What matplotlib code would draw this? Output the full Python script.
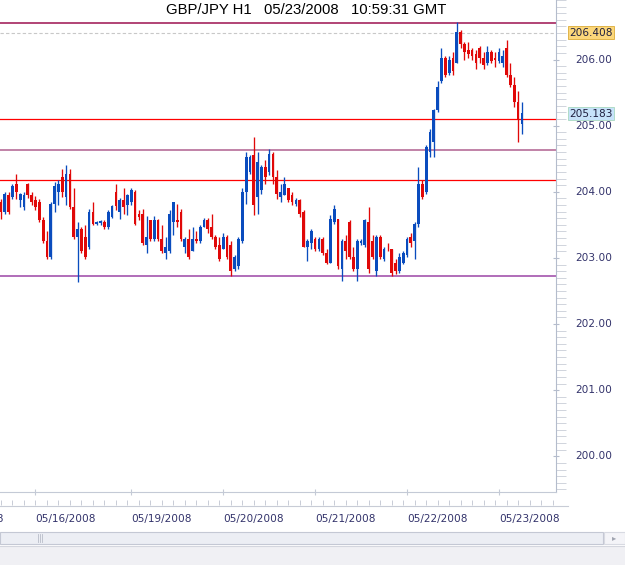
import numpy as np
import matplotlib
matplotlib.use("Agg")
import matplotlib.pyplot as plt
from matplotlib.lines import Line2D
from matplotlib.patches import Rectangle
import matplotlib.transforms as mtransforms

# GBP/JPY hourly bars (open, high, low, close)
opens = [203.85, 203.70, 203.95, 203.92, 204.11, 203.88, 203.77, 204.11, 203.95, 203.88,
         203.85, 203.58, 203.25, 203.02, 203.82, 204.00, 204.23, 203.92, 204.27, 203.77,
         203.32, 203.43, 203.32, 203.17, 203.70, 203.52, 203.53, 203.55, 203.46, 203.62,
         204.00, 203.70, 203.88, 203.80, 203.85, 204.00, 203.67, 203.67, 203.20, 203.58,
         203.28, 203.58, 203.28, 203.08, 203.10, 203.55, 203.58, 203.70, 203.17, 203.29,
         203.10, 203.28, 203.25, 203.47, 203.58, 203.47, 203.32, 203.20, 203.14, 203.32,
         203.20, 202.83, 202.87, 203.25, 204.00, 204.30, 204.56, 203.92, 204.03, 204.38,
         204.30, 204.57, 204.23, 203.92, 203.95, 204.05, 203.95, 203.82, 203.88, 203.70,
         203.17, 203.22, 203.29, 203.13, 203.28, 203.07, 202.92, 203.55, 203.59, 202.83,
         203.25, 203.55, 203.02, 202.83, 203.22, 203.20, 203.55, 203.25, 202.80, 203.32,
         202.98, 203.14, 203.13, 202.92, 202.80, 202.92, 203.05, 203.32, 203.25, 203.52,
         204.11, 204.00, 204.60, 204.75, 205.23, 205.68, 206.03, 205.80, 206.03, 205.95,
         206.41, 206.23, 206.14, 206.14, 206.08, 206.18, 206.03, 205.95, 206.11, 206.03,
         205.98, 205.95, 206.18, 205.77, 205.62, 205.35, 205.02]
highs = [203.89, 204.00, 204.00, 204.12, 204.27, 203.98, 204.00, 204.14, 204.00, 203.94,
         203.89, 203.62, 203.40, 203.85, 204.15, 204.18, 204.35, 204.41, 204.35, 204.05,
         203.55, 203.47, 203.50, 203.74, 203.85, 203.56, 203.58, 203.58, 203.73, 203.80,
         204.11, 203.91, 204.05, 203.97, 204.06, 204.02, 203.73, 203.74, 203.64, 203.58,
         203.64, 203.59, 203.50, 203.32, 203.73, 203.85, 203.82, 203.74, 203.31, 203.43,
         203.47, 203.40, 203.50, 203.61, 203.61, 203.67, 203.35, 203.32, 203.37, 203.35,
         203.25, 203.05, 203.32, 204.05, 204.60, 204.56, 204.83, 204.60, 204.41, 204.48,
         204.65, 204.60, 204.33, 204.12, 204.23, 204.06, 204.00, 203.91, 203.89, 203.73,
         203.29, 203.44, 203.32, 203.32, 203.32, 203.13, 203.65, 203.80, 203.59, 203.28,
         203.35, 203.58, 203.17, 203.28, 203.28, 203.59, 203.77, 203.35, 203.35, 203.35,
         203.17, 203.22, 203.13, 202.98, 203.07, 203.10, 203.32, 203.37, 203.55, 204.38,
         204.18, 204.71, 204.95, 205.25, 205.68, 206.18, 206.06, 206.06, 206.11, 206.56,
         206.44, 206.26, 206.26, 206.17, 206.14, 206.21, 206.11, 206.21, 206.14, 206.11,
         206.18, 206.14, 206.29, 205.95, 205.73, 205.53, 205.35]
lows = [203.59, 203.67, 203.67, 203.89, 203.89, 203.77, 203.73, 203.91, 203.80, 203.73,
        203.55, 203.22, 202.99, 202.99, 203.70, 203.80, 203.92, 203.80, 203.74, 203.29,
        202.63, 203.07, 202.98, 203.14, 203.49, 203.49, 203.50, 203.43, 203.43, 203.61,
        203.73, 203.59, 203.67, 203.65, 203.80, 203.49, 203.58, 203.20, 203.07, 203.25,
        203.25, 203.25, 203.07, 202.99, 203.08, 203.35, 203.47, 203.25, 203.07, 202.98,
        203.10, 203.22, 203.22, 203.46, 203.37, 203.28, 203.14, 202.95, 203.13, 202.98,
        202.72, 202.80, 202.83, 203.22, 203.82, 204.27, 203.65, 203.67, 203.97, 204.12,
        204.26, 204.11, 203.89, 203.85, 203.95, 203.85, 203.80, 203.79, 203.62, 203.16,
        202.95, 203.14, 203.10, 203.10, 203.05, 202.91, 202.92, 203.52, 202.83, 202.65,
        202.99, 202.99, 202.80, 202.65, 203.20, 203.17, 202.77, 202.98, 202.72, 202.99,
        202.95, 203.10, 202.72, 202.75, 202.77, 202.91, 203.02, 203.17, 202.99, 203.47,
        203.89, 203.97, 204.53, 204.53, 205.20, 205.65, 205.73, 205.76, 205.77, 205.95,
        206.18, 206.00, 206.03, 206.00, 205.86, 205.95, 205.86, 205.92, 205.95, 205.88,
        205.95, 205.88, 205.73, 205.58, 205.28, 204.75, 204.87]
closes = [203.70, 203.97, 203.70, 204.08, 204.00, 203.97, 203.95, 203.95, 203.85, 203.77,
          203.58, 203.25, 203.02, 203.82, 204.08, 204.12, 204.00, 204.27, 203.77, 203.32,
          203.43, 203.10, 203.02, 203.70, 203.52, 203.55, 203.56, 203.46, 203.70, 203.79,
          203.79, 203.88, 203.77, 203.95, 204.03, 203.52, 203.62, 203.22, 203.32, 203.28,
          203.58, 203.28, 203.10, 203.17, 203.67, 203.85, 203.55, 203.28, 203.29, 203.02,
          203.28, 203.25, 203.47, 203.58, 203.43, 203.32, 203.17, 202.98, 203.32, 203.02,
          202.80, 203.02, 203.29, 204.00, 204.53, 204.53, 203.80, 204.45, 204.38, 204.23,
          204.57, 204.23, 203.97, 204.00, 204.11, 203.88, 203.85, 203.88, 203.67, 203.17,
          203.25, 203.40, 203.13, 203.28, 203.07, 202.92, 203.59, 203.74, 202.87, 203.25,
          203.10, 203.01, 202.83, 203.25, 203.25, 203.58, 202.83, 203.01, 203.32, 203.02,
          203.14, 203.13, 202.77, 202.80, 203.02, 203.07, 203.28, 203.22, 203.52, 204.11,
          203.92, 204.68, 204.90, 205.23, 205.58, 206.03, 205.77, 206.00, 205.83, 206.41,
          206.23, 206.11, 206.08, 206.06, 205.95, 206.03, 205.91, 206.11, 205.98, 206.00,
          206.11, 206.06, 205.77, 205.62, 205.35, 205.08, 205.19]

# date labels and the bar index where each day starts
day_labels = ["05/15/2008", "05/16/2008", "05/19/2008", "05/20/2008",
              "05/21/2008", "05/22/2008", "05/23/2008"]
day_starts = [-15, 9, 34, 58, 82, 106, 130]

# horizontal levels drawn on the chart
purple_levels = [206.556, 204.63, 202.72]
purple_colors = ["#9c1150", "#b0608f", "#9b45a5"]
red_levels = [205.10, 204.18]
day_high = 206.408
last_price = 205.183

W, H = 625, 565
fig = plt.figure(figsize=(W / 100, H / 100), dpi=100, facecolor="white")
ax = fig.add_axes([0, (H - 492) / H, 556 / W, 492 / H])
ax.set_facecolor("white")

o = np.array(opens)
h = np.array(highs)
l = np.array(lows)
c = np.array(closes)
x = np.arange(len(c))
up = c >= o
cols = np.where(up, "#0a4cbe", "#e00808")

ax.vlines(x, l, h, colors=cols, lw=0.95, zorder=3)
ax.bar(x, c - o, bottom=o, width=0.72, color=cols, linewidth=0, zorder=3)

for lev, col in zip(purple_levels, purple_colors):
    ax.axhline(lev, color=col, lw=1.1, zorder=2)
for lev in red_levels:
    ax.axhline(lev, color="#ff0000", lw=0.9, zorder=2)
ax.axhline(day_high, color="#c8c8c8", lw=0.8, ls=(0, (3, 2)), zorder=1)

ax.set_xlim(-0.26, 144.9)
ax.set_ylim(199.46, 206.857)

for s in ["top", "left"]:
    ax.spines[s].set_visible(False)
ax.spines["right"].set_color("#b4bccc")
ax.spines["bottom"].set_color("#c4cad6")

# right price axis
ax.yaxis.tick_right()
ax.set_yticks(np.arange(200, 207))
ax.set_yticklabels([f"{v:.2f}" for v in np.arange(200, 207)])
ax.set_yticks(np.arange(199.5, 206.9, 0.1), minor=True)
ax.tick_params(axis="y", which="major", direction="inout", length=5, width=0.8,
               color="#b4bccc", pad=11, labelsize=7.6, labelcolor="#33336b")
ax.tick_params(axis="y", which="minor", direction="out", length=7, width=0.7,
               color="#d0d4dc")
for lbl in ax.get_yticklabels():
    lbl.set_va("center")

# bottom date axis
ax.set_xticks(day_starts[1:])
ax.set_xticklabels([])
ax.tick_params(axis="x", which="major", direction="inout", length=5, width=0.8,
               color="#c4cad6")
trans = mtransforms.blended_transform_factory(ax.transData, ax.transAxes)
minor_x = np.arange(-15, 145, 3)
ax.vlines(minor_x, -13 / 492, -8 / 492, colors="#c8ccd6", lw=0.7,
          transform=trans, clip_on=False)
for d, lab in zip(day_starts, day_labels):
    ax.text(d, -27 / 492, lab, transform=trans, ha="left", va="center",
            fontsize=7.6, color="#33336b", clip_on=False)
fig.add_artist(Line2D([0, 568 / W], [(H - 506) / H] * 2, color="#c8ccd6", lw=0.8))

# price flags
flag_trans = mtransforms.blended_transform_factory(mtransforms.IdentityTransform(),
                                                   ax.transData)
ax.text(569, day_high, f"{day_high:.3f}", transform=flag_trans, fontsize=7.6,
        color="#202040", va="center", ha="left", zorder=6, clip_on=False,
        bbox=dict(boxstyle="square,pad=0.12", fc="#fcd77a", ec="#e0b44a", lw=0.7))
ax.text(569, last_price, f"{last_price:.3f}", transform=flag_trans, fontsize=7.6,
        color="#202040", va="center", ha="left", zorder=6, clip_on=False,
        bbox=dict(boxstyle="square,pad=0.12", fc="#c6e2fa", ec="#b0dcc8", lw=0.7))

# title
fig.text(306 / W, 1 - 10 / H, "GBP/JPY H1   05/23/2008   10:59:31 GMT",
         ha="center", va="center", fontsize=10.7, family="Liberation Sans",
         color="black")

# scrollbar and status panel
fig.add_artist(Rectangle((0, (H - 544) / H), 603 / W, 12 / H, fc="#eceef4",
                         ec="#c4c8d4", lw=0.8, transform=fig.transFigure))
fig.add_artist(Rectangle((604 / W, (H - 544) / H), 21 / W, 12 / H, fc="#f4f4f8",
                         ec="#d8dae2", lw=0.8, transform=fig.transFigure))
fig.text(614 / W, 1 - 538 / H, "\u25b8", ha="center", va="center", fontsize=6,
         color="#a0a4b0")
for gx in [38, 40, 42]:
    fig.add_artist(Line2D([gx / W] * 2, [(H - 542) / H, (H - 534) / H],
                          color="#b8bcc8", lw=0.6))
fig.add_artist(Rectangle((0, 0), 1, 19 / H, fc="#f0f0f4", ec="none",
                         transform=fig.transFigure))
fig.add_artist(Line2D([0, 1], [19 / H] * 2, color="#d4d6de", lw=0.8))

fig.savefig("out.png", dpi=100, facecolor="white")
